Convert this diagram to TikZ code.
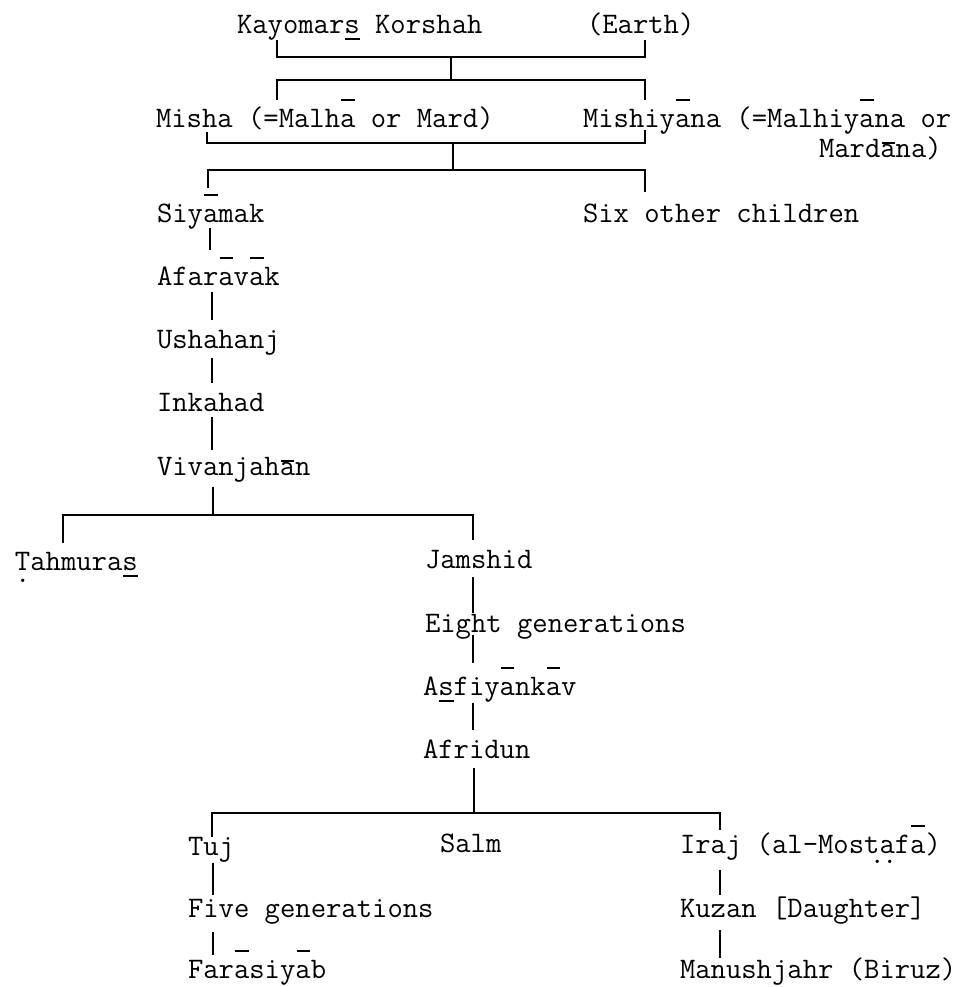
\documentclass[tikz,border=0pt]{standalone}
\usepackage{fontspec}
% typewriter diacritics: bar above, bar below, dot below, pair of dots below (one character cell wide)
\newcommand\tbar[2][0.88em]{\rlap{\hbox to 0.525em{\hss\rule[#1]{0.45em}{0.075em}\hss}}#2}
\newcommand\tund[1]{\rlap{\hbox to 0.525em{\hss\rule[-0.24em]{0.5em}{0.075em}\hss}}#1}
\newcommand\tdot[1]{\rlap{\hbox to 0.525em{\hss\raisebox{-0.42em}{.}\hss}}#1}
\newcommand\tdots[1]{\rlap{\hskip0.18em\raisebox{-0.36em}{.}\hskip-0.09em\raisebox{-0.36em}{.}}#1}
\begin{document}
\begin{tikzpicture}[x=0.5pt,y=-0.5pt,
  lbl/.style={anchor=base west, inner sep=0pt, outer sep=0pt,
              font=\fontsize{14.9}{18}\selectfont\ttfamily\addfontfeatures{FakeBold=1.5}},
  rule/.style={line width=1.4pt}]
\useasboundingbox (0,0) rectangle (967,987);

% ---- names ----
\node[lbl] (kay)   at (237,33)  {Kayomar\tund{s} Korshah};
\node[lbl] (earth) at (587,33)  {(Earth)};
\node[lbl] (misha) at (156,127) {Misha (=Malh\tbar{a} or Mard)};
\node[lbl] (mishi) at (583,127) {Mishiy\tbar{a}na (=Malhiy\tbar{a}na or};
\node[lbl] (mard)  at (819,157) {Mard\tbar[0.42em]{a}na)};
\node[lbl] (siy)   at (157,222) {Siy\tbar{a}mak};
\node[lbl] (six)   at (583,222) {Six other children};
\node[lbl] (afa)   at (157,285) {Afar\tbar{a}v\tbar{a}k};
\node[lbl] (ush)   at (157,348) {Ushahanj};
\node[lbl] (ink)   at (157,411) {Inkahad};
\node[lbl] (viv)   at (157,475) {Vivanjah\tbar[0.42em]{a}n};
\node[lbl] (tah)   at (15,570)  {\tdot{T}ahmura\tund{s}};
\node[lbl] (jam)   at (425,568) {Jamshid};
\node[lbl] (eight) at (425,632) {Eight generations};
\node[lbl] (asf)   at (423,695) {A\tund{s}fiy\tbar{a}nk\tbar{a}v};
\node[lbl] (afr)   at (423,758) {Afridun};
\node[lbl] (tuj)   at (188,855) {Tuj};
\node[lbl] (salm)  at (440,852) {Salm};
\node[lbl] (iraj)  at (680,853) {Iraj (al-Mos\tdots{t}af\tbar{a})};
\node[lbl] (five)  at (188,917) {Five generations};
\node[lbl] (kuzan) at (680,917) {Kuzan [Daughter]};
\node[lbl] (far)   at (188,978) {Far\tbar{a}siy\tbar{a}b};
\node[lbl] (manu)  at (680,978) {Manushjahr (Biruz)};

% ---- bracket and stem points ----
\coordinate (k1) at (277,40);  \coordinate (k2) at (277,57);
\coordinate (e1) at (645,40);  \coordinate (e2) at (645,57);
\coordinate (c1) at (451,57);  \coordinate (c2) at (451,80);
\coordinate (m1) at (277,100); \coordinate (m2) at (277,80);
\coordinate (n1) at (645,100); \coordinate (n2) at (645,80);
\coordinate (p1) at (207,132); \coordinate (p2) at (207,143);
\coordinate (q1) at (645,130); \coordinate (q2) at (645,143);
\coordinate (c3) at (453,143); \coordinate (c4) at (453,170);
\coordinate (s1) at (208,188); \coordinate (s2) at (208,170);
\coordinate (x1) at (645,192); \coordinate (x2) at (645,170);
\coordinate (a1) at (210,228); \coordinate (a2) at (210,250);
\coordinate (a3) at (212,292); \coordinate (a4) at (212,320);
\coordinate (a5) at (212,358); \coordinate (a6) at (212,383);
\coordinate (a7) at (212,417); \coordinate (a8) at (212,450);
\coordinate (v1) at (213,487); \coordinate (v2) at (213,515);
\coordinate (t1) at (63,543);  \coordinate (t2) at (63,515);
\coordinate (j1) at (473,540); \coordinate (j2) at (473,515);
\coordinate (b1) at (473,577); \coordinate (b2) at (473,613);
\coordinate (b3) at (473,635); \coordinate (b4) at (473,663);
\coordinate (b5) at (473,703); \coordinate (b6) at (473,730);
\coordinate (f1) at (474,768); \coordinate (f2) at (474,813);
\coordinate (u1) at (212,837); \coordinate (u2) at (212,813);
\coordinate (r1) at (720,830); \coordinate (r2) at (720,813);
\coordinate (d1) at (213,863); \coordinate (d2) at (213,895);
\coordinate (d3) at (213,932); \coordinate (d4) at (213,955);
\coordinate (g1) at (720,870); \coordinate (g2) at (720,895);
\coordinate (g3) at (720,930); \coordinate (g4) at (720,958);

% ---- connectors ----
\draw[rule] (k1) -- (k2) -- (e2) -- (e1);
\draw[rule] (c1) -- (c2);
\draw[rule] (m1) -- (m2) -- (n2) -- (n1);
\draw[rule] (p1) -- (p2) -- (q2) -- (q1);
\draw[rule] (c3) -- (c4);
\draw[rule] (s1) -- (s2) -- (x2) -- (x1);
\draw[rule] (a1) -- (a2);
\draw[rule] (a3) -- (a4);
\draw[rule] (a5) -- (a6);
\draw[rule] (a7) -- (a8);
\draw[rule] (v1) -- (v2);
\draw[rule] (t1) -- (t2) -- (j2) -- (j1);
\draw[rule] (b1) -- (b2);
\draw[rule] (b3) -- (b4);
\draw[rule] (b5) -- (b6);
\draw[rule] (f1) -- (f2);
\draw[rule] (u1) -- (u2) -- (r2) -- (r1);
\draw[rule] (d1) -- (d2);
\draw[rule] (d3) -- (d4);
\draw[rule] (g1) -- (g2);
\draw[rule] (g3) -- (g4);
\end{tikzpicture}
\end{document}
